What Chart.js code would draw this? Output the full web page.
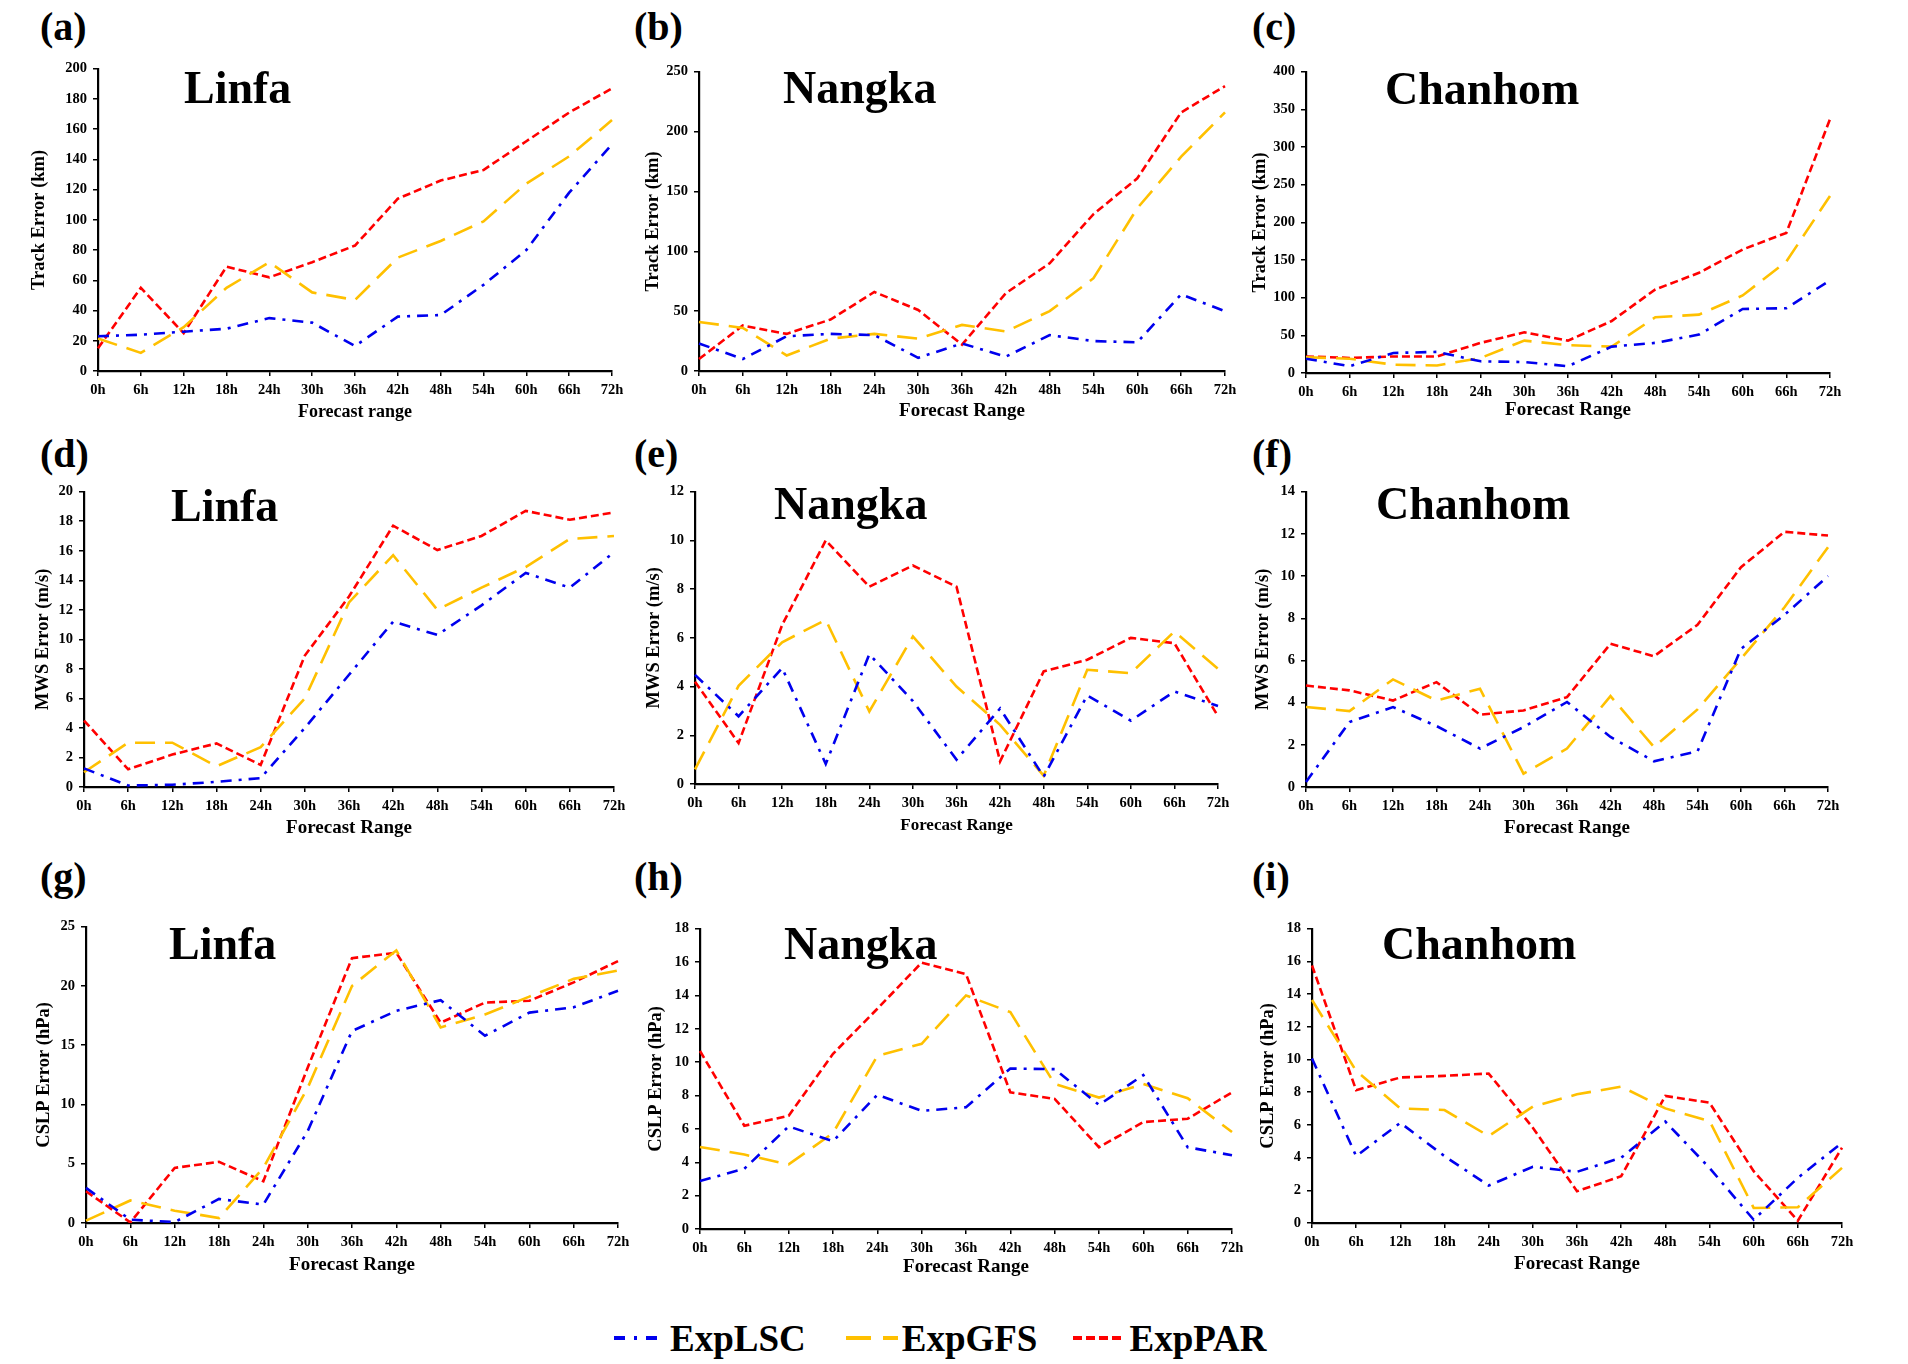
<!DOCTYPE html>
<html>
<head>
<meta charset="utf-8">
<script src="https://cdn.jsdelivr.net/npm/chart.js@4.4.0/dist/chart.umd.min.js"></script>
<style>
  html, body { margin:0; padding:0; background:#fff; }
  body { width:1908px; height:1364px; position:relative; overflow:hidden; font-family:"Liberation Serif", "DejaVu Serif", serif; }
  canvas { position:absolute; }
  .plabel { position:absolute; font-weight:bold; font-size:40px; line-height:40px; color:#000; }
  #legend { position:absolute; left:612px; top:1318px; height:40px; display:flex; align-items:center; font-weight:bold; font-size:37px; color:#000; }
  #legend .item { display:flex; align-items:center; }
  #legend svg { display:block; }
</style>
</head>
<body>
<div class="plabel" style="left:40px;top:7px">(a)</div>
<div class="plabel" style="left:634px;top:7px">(b)</div>
<div class="plabel" style="left:1252px;top:7px">(c)</div>
<div class="plabel" style="left:40px;top:434px">(d)</div>
<div class="plabel" style="left:634px;top:434px">(e)</div>
<div class="plabel" style="left:1252px;top:434px">(f)</div>
<div class="plabel" style="left:40px;top:857px">(g)</div>
<div class="plabel" style="left:634px;top:857px">(h)</div>
<div class="plabel" style="left:1252px;top:857px">(i)</div>

<div id="legend">
  <div class="item"><svg width="56" height="10"><line x1="2" y1="5" x2="54" y2="5" stroke="#0000EE" stroke-width="4" stroke-dasharray="11 9 3 9"/></svg><span style="margin-left:2px">ExpLSC</span></div>
  <div class="item" style="margin-left:38px"><svg width="56" height="10"><line x1="2" y1="5" x2="54" y2="5" stroke="#FFC000" stroke-width="4" stroke-dasharray="25 12"/></svg><span style="margin-left:2px">ExpGFS</span></div>
  <div class="item" style="margin-left:34px"><svg width="56" height="10"><line x1="2" y1="5" x2="54" y2="5" stroke="#FF0000" stroke-width="4" stroke-dasharray="9 4"/></svg><span style="margin-left:2px">ExpPAR</span></div>
</div>

<script>
// ---------------- DATA ----------------
const hours = ['0h','6h','12h','18h','24h','30h','36h','42h','48h','54h','60h','66h','72h'];
const seriesNames = ['ExpLSC', 'ExpGFS', 'ExpPAR'];

// Track error (km)
const linfaTrackLSC   = [23, 24, 26, 28, 35, 32, 16.5, 36, 37, 57, 80, 118, 150];
const linfaTrackGFS   = [21.5, 12, 29, 55, 72, 52, 47, 75, 86, 99, 124, 142, 166];
const linfaTrackPAR   = [15, 55, 25, 69, 62, 72, 83, 114, 126, 133, 152, 171, 187];

const nangkaTrackLSC  = [23, 10, 29, 31, 30, 11, 23, 12, 30, 25, 24, 64, 50];
const nangkaTrackGFS  = [41, 36, 13, 27, 31, 27, 38.5, 33, 50, 77.5, 136, 179, 216];
const nangkaTrackPAR  = [10, 38, 31, 43, 66, 51, 22, 65, 90, 131, 161, 216, 238];

const chanhomTrackLSC = [19, 9, 26.6, 28, 15.5, 14.6, 9, 35, 40, 51, 85, 86, 123];
const chanhomTrackGFS = [21, 19, 11, 10, 20, 43, 37, 35, 74, 77.5, 103, 148, 235];
const chanhomTrackPAR = [22, 20, 22, 22, 40, 54, 43, 69, 111, 133, 164, 186, 337];

// MWS error (m/s)
const linfaMwsLSC   = [1.26, 0.1, 0.15, 0.35, 0.6, 4.0, 7.6, 11.2, 10.3, 12.3, 14.5, 13.5, 15.9];
const linfaMwsGFS   = [1.0, 3.0, 3.0, 1.4, 2.7, 6.0, 12.5, 15.7, 12.0, 13.5, 14.9, 16.8, 17.0];
const linfaMwsPAR   = [4.5, 1.2, 2.2, 2.95, 1.5, 8.9, 12.9, 17.7, 16.05, 17.0, 18.7, 18.1, 18.6];

const nangkaMwsLSC  = [4.48, 2.78, 4.76, 0.82, 5.33, 3.4, 1.0, 3.1, 0.3, 3.64, 2.6, 3.8, 3.2];
const nangkaMwsGFS  = [0.6, 4.03, 5.82, 6.74, 2.98, 6.06, 4.0, 2.43, 0.34, 4.69, 4.55, 6.26, 4.73];
const nangkaMwsPAR  = [4.2, 1.68, 6.53, 10.0, 8.1, 8.97, 8.1, 0.93, 4.62, 5.1, 6.0, 5.78, 2.78];

const chanhomMwsLSC = [0.24, 3.08, 3.79, 2.89, 1.82, 2.84, 4.03, 2.37, 1.22, 1.69, 6.55, 8.16, 10.0];
const chanhomMwsGFS = [3.79, 3.6, 5.1, 4.1, 4.66, 0.63, 1.82, 4.31, 1.89, 3.68, 6.08, 8.52, 11.37];
const chanhomMwsPAR = [4.81, 4.58, 4.1, 4.97, 3.43, 3.63, 4.26, 6.79, 6.2, 7.69, 10.42, 12.1, 11.92];

// CSLP error (hPa)
const linfaSlpLSC   = [2.96, 0.28, 0.08, 2.03, 1.55, 7.75, 16.2, 17.9, 18.8, 15.8, 17.75, 18.2, 19.6];
const linfaSlpGFS   = [0.2, 1.9, 1.04, 0.42, 4.65, 11.4, 20.0, 23.0, 16.5, 17.6, 19.1, 20.6, 21.3];
const linfaSlpPAR   = [2.68, 0.05, 4.65, 5.16, 3.52, 13.1, 22.35, 22.8, 16.9, 18.6, 18.75, 20.3, 22.1];

const nangkaSlpLSC  = [2.88, 3.61, 6.15, 5.26, 8.04, 7.08, 7.3, 9.62, 9.58, 7.44, 9.23, 4.9, 4.42];
const nangkaSlpGFS  = [4.92, 4.46, 3.87, 5.75, 10.38, 11.1, 14.0, 13.0, 8.69, 7.88, 8.69, 7.84, 5.81];
const nangkaSlpPAR  = [10.67, 6.19, 6.79, 10.5, 13.2, 15.97, 15.28, 8.19, 7.8, 4.9, 6.41, 6.61, 8.19];

const chanhomSlpLSC = [10.06, 4.09, 6.13, 4.09, 2.29, 3.44, 3.13, 3.99, 6.2, 3.37, 0.2, 2.76, 4.91];
const chanhomSlpGFS = [13.64, 9.3, 7.01, 6.91, 5.32, 7.12, 7.87, 8.34, 7.01, 6.24, 0.92, 0.96, 3.37];
const chanhomSlpPAR = [15.75, 8.12, 8.9, 9.0, 9.14, 5.83, 1.94, 2.86, 7.77, 7.36, 3.17, 0.14, 4.6];

// Axis ranges / tick steps per panel
const yMax  = [200, 250, 400, 20, 12, 14, 25, 18, 18];
const yStep = [20, 50, 50, 2, 2, 2, 5, 2, 2];
const stormNames = ['Linfa', 'Nangka', 'Chanhom', 'Linfa', 'Nangka', 'Chanhom', 'Linfa', 'Nangka', 'Chanhom'];
const yTitles = ['Track Error (km)', 'Track Error (km)', 'Track Error (km)',
                 'MWS Error (m/s)', 'MWS Error (m/s)', 'MWS Error (m/s)',
                 'CSLP Error (hPa)', 'CSLP Error (hPa)', 'CSLP Error (hPa)'];
const xTitles = ['Forecast range', 'Forecast Range', 'Forecast Range',
                 'Forecast Range', 'Forecast Range', 'Forecast Range',
                 'Forecast Range', 'Forecast Range', 'Forecast Range'];

const panelData = [
  [linfaTrackLSC, linfaTrackGFS, linfaTrackPAR],
  [nangkaTrackLSC, nangkaTrackGFS, nangkaTrackPAR],
  [chanhomTrackLSC, chanhomTrackGFS, chanhomTrackPAR],
  [linfaMwsLSC, linfaMwsGFS, linfaMwsPAR],
  [nangkaMwsLSC, nangkaMwsGFS, nangkaMwsPAR],
  [chanhomMwsLSC, chanhomMwsGFS, chanhomMwsPAR],
  [linfaSlpLSC, linfaSlpGFS, linfaSlpPAR],
  [nangkaSlpLSC, nangkaSlpGFS, nangkaSlpPAR],
  [chanhomSlpLSC, chanhomSlpGFS, chanhomSlpPAR]
];

// ---------------- LAYOUT / STYLE ----------------
const layout = [
  {L:98,   T:66,  R:612,  B:371,  yOff:59, xOff:41, xFont:18, tdx:86, tdy:34},
  {L:699,  T:69,  R:1225, B:371,  yOff:46, xOff:40, xFont:19, tdx:84, tdy:31},
  {L:1306, T:69,  R:1830, B:373,  yOff:46, xOff:37, xFont:19, tdx:79, tdy:32},
  {L:84,   T:489, R:614,  B:787,  yOff:41, xOff:41, xFont:19, tdx:87, tdy:29},
  {L:695,  T:489, R:1218, B:784,  yOff:41, xOff:41, xFont:17, tdx:79, tdy:27},
  {L:1306, T:489, R:1828, B:787,  yOff:43, xOff:41, xFont:19, tdx:70, tdy:27},
  {L:86,   T:924, R:618,  B:1223, yOff:42, xOff:42, xFont:19, tdx:83, tdy:32},
  {L:700,  T:926, R:1232, B:1229, yOff:44, xOff:38, xFont:19, tdx:84, tdy:30},
  {L:1312, T:926, R:1842, B:1223, yOff:44, xOff:41, xFont:19, tdx:70, tdy:30}
];
const colors = ['#0000EE', '#FFC000', '#FF0000'];
const dashes = [[11, 7, 3, 7], [20, 10], [8, 4]];
const FONT = '"Liberation Serif", "DejaVu Serif", serif';

const stormTitle = {
  id: 'stormTitle',
  afterDraw(chart, args, opts) {
    const {ctx, chartArea} = chart;
    ctx.save();
    ctx.font = 'bold 46px ' + FONT;
    ctx.fillStyle = '#000';
    ctx.textBaseline = 'alphabetic';
    ctx.textAlign = 'left';
    ctx.fillText(opts.text, chartArea.left + opts.dx, chartArea.top + opts.dy);
    ctx.restore();
  }
};

const padTop = 12, padRight = 26;

layout.forEach((p, i) => {
  const yW = p.yOff + 15;
  const xH = p.xOff + 15;
  const cv = document.createElement('canvas');
  const w = (p.R - p.L) + yW + padRight;
  const h = (p.B - p.T) + padTop + xH;
  cv.width = w; cv.height = h;
  cv.style.width = w + 'px'; cv.style.height = h + 'px';
  cv.style.left = (p.L - yW) + 'px';
  cv.style.top = (p.T - padTop) + 'px';
  document.body.appendChild(cv);

  const datasets = panelData[i].map((arr, k) => ({
    label: seriesNames[k],
    data: arr,
    borderColor: colors[k],
    backgroundColor: colors[k],
    borderWidth: 2.6,
    borderDash: dashes[k],
    pointRadius: 0,
    tension: 0,
    fill: false
  }));

  new Chart(cv, {
    type: 'line',
    data: { labels: hours, datasets },
    plugins: [stormTitle],
    options: {
      responsive: false,
      animation: false,
      devicePixelRatio: 1,
      layout: { padding: { top: padTop, right: padRight, left: 0, bottom: 0 } },
      plugins: {
        legend: { display: false },
        tooltip: { enabled: false },
        stormTitle: { text: stormNames[i], dx: p.tdx, dy: p.tdy }
      },
      scales: {
        x: {
          type: 'category',
          offset: false,
          grid: { display: true, drawOnChartArea: false, drawTicks: true, tickLength: 5, color: '#000', lineWidth: 1.5 },
          border: { display: true, color: '#000', width: 2.2 },
          ticks: { color: '#000', font: { family: FONT, size: 14.5, weight: 'bold' }, padding: 6, maxRotation: 0, autoSkip: false },
          title: { display: true, text: xTitles[i], color: '#000', font: { family: FONT, size: p.xFont, weight: 'bold' }, padding: { top: 4, bottom: 4 } },
          afterFit(scale) { scale.height = xH; }
        },
        y: {
          min: 0, max: yMax[i],
          grid: { display: true, drawOnChartArea: false, drawTicks: true, tickLength: 5, color: '#000', lineWidth: 1.5 },
          border: { display: true, color: '#000', width: 2.2 },
          ticks: { stepSize: yStep[i], color: '#000', font: { family: FONT, size: 14.5, weight: 'bold' }, padding: 6 },
          title: { display: true, text: yTitles[i], color: '#000', font: { family: FONT, size: 18.5, weight: 'bold' }, padding: { top: 4, bottom: 4 } },
          afterFit(scale) { scale.width = yW; }
        }
      }
    }
  });
});
</script>
</body>
</html>
